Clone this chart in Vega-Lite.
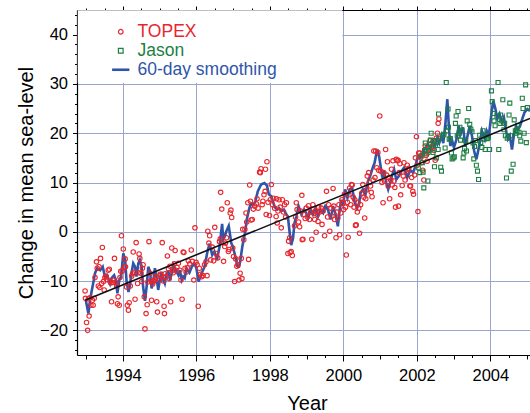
{
  "$schema": "https://vega.github.io/schema/vega-lite/v6.json",
  "width": 453,
  "height": 345,
  "autosize": {"type": "none"},
  "padding": {"left": 77, "top": 10, "right": 0, "bottom": 58},
  "background": "white",
  "config": {
    "view": {"stroke": null},
    "font": "Liberation Sans",
    "axis": {"labelFont": "Liberation Sans", "titleFont": "Liberation Sans", "labelColor": "black", "titleColor": "black", "titleFontWeight": "normal", "domainColor": "black", "tickColor": "black", "domainWidth": 1.2, "tickWidth": 1}
  },
  "datasets": {
    "topex": [
      {"year":1992.97,"level":-12.0},{"year":1992.98,"level":-13.5},{"year":1993.01,"level":-18.4},{"year":1993.04,"level":-20.0},{"year":1993.06,"level":-13.6},{"year":1993.08,"level":-17.1},{"year":1993.10,"level":-13.4},{"year":1993.13,"level":-14.9},{"year":1993.17,"level":-13.9},{"year":1993.19,"level":-14.9},{"year":1993.22,"level":-13.5},{"year":1993.24,"level":-9.3},{"year":1993.28,"level":-6.1},{"year":1993.30,"level":-7.4},{"year":1993.33,"level":-11.0},{"year":1993.35,"level":-7.1},{"year":1993.37,"level":-11.3},{"year":1993.39,"level":-5.4},{"year":1993.42,"level":-10.5},{"year":1993.44,"level":-3.2},{"year":1993.47,"level":-10.1},{"year":1993.49,"level":-11.8},{"year":1993.51,"level":-9.3},{"year":1993.54,"level":-9.0},{"year":1993.56,"level":-9.7},{"year":1993.60,"level":-7.8},{"year":1993.63,"level":-7.6},{"year":1993.65,"level":-10.1},{"year":1993.67,"level":-10.4},{"year":1993.69,"level":-14.2},{"year":1993.72,"level":-10.3},{"year":1993.75,"level":-9.8},{"year":1993.77,"level":-5.4},{"year":1993.81,"level":-10.3},{"year":1993.83,"level":-11.0},{"year":1993.85,"level":-14.6},{"year":1993.87,"level":-13.2},{"year":1993.90,"level":-14.9},{"year":1993.92,"level":-9.3},{"year":1993.94,"level":-8.0},{"year":1993.96,"level":-0.8},{"year":1993.98,"level":-8.0},
      {"year":1994.01,"level":-3.5},{"year":1994.04,"level":-7.2},{"year":1994.06,"level":-5.5},{"year":1994.07,"level":-7.1},{"year":1994.10,"level":-11.2},{"year":1994.12,"level":-14.9},{"year":1994.15,"level":-15.9},{"year":1994.17,"level":-14.4},{"year":1994.20,"level":-11.0},{"year":1994.24,"level":-9.0},{"year":1994.26,"level":-8.5},{"year":1994.28,"level":-4.1},{"year":1994.31,"level":-8.2},{"year":1994.33,"level":-13.7},{"year":1994.36,"level":-2.2},{"year":1994.40,"level":-10.5},{"year":1994.42,"level":-8.3},{"year":1994.44,"level":-4.5},{"year":1994.46,"level":-5.4},{"year":1994.49,"level":-8.4},{"year":1994.51,"level":-10.1},{"year":1994.53,"level":-7.4},{"year":1994.55,"level":-6.7},{"year":1994.58,"level":-13.2},{"year":1994.60,"level":-19.7},{"year":1994.63,"level":-16.6},{"year":1994.66,"level":-14.8},{"year":1994.68,"level":-10.2},{"year":1994.71,"level":-2.0},{"year":1994.74,"level":-8.4},{"year":1994.76,"level":-9.9},{"year":1994.78,"level":-13.9},{"year":1994.81,"level":-10.6},{"year":1994.83,"level":-10.1},{"year":1994.87,"level":-9.7},{"year":1994.90,"level":-9.2},{"year":1994.92,"level":-14.2},{"year":1994.94,"level":-16.3},{"year":1994.99,"level":-9.8},
      {"year":1995.01,"level":-8.6},{"year":1995.03,"level":-8.8},{"year":1995.07,"level":-2.2},{"year":1995.10,"level":-10.0},{"year":1995.12,"level":-15.1},{"year":1995.13,"level":-16.6},{"year":1995.15,"level":-8.5},{"year":1995.17,"level":-9.1},{"year":1995.21,"level":-4.9},{"year":1995.24,"level":-7.5},{"year":1995.26,"level":-9.5},{"year":1995.28,"level":-7.0},{"year":1995.30,"level":-14.2},{"year":1995.33,"level":-3.3},{"year":1995.35,"level":-7.9},{"year":1995.37,"level":-8.3},{"year":1995.40,"level":-6.5},{"year":1995.42,"level":-3.8},{"year":1995.44,"level":-7.8},{"year":1995.47,"level":-7.2},{"year":1995.51,"level":-6.4},{"year":1995.55,"level":-7.8},{"year":1995.58,"level":-9.8},{"year":1995.61,"level":-13.7},{"year":1995.64,"level":-4.1},{"year":1995.66,"level":-4.2},{"year":1995.69,"level":-7.4},{"year":1995.72,"level":-8.2},{"year":1995.75,"level":-7.3},{"year":1995.78,"level":-5.9},{"year":1995.82,"level":-6.5},{"year":1995.86,"level":-3.7},{"year":1995.89,"level":-6.0},{"year":1995.93,"level":-9.8},{"year":1995.96,"level":0.8},{"year":1995.99,"level":-6.2},
      {"year":1996.02,"level":-6.7},{"year":1996.05,"level":-15.1},{"year":1996.08,"level":-7.4},{"year":1996.11,"level":-8.6},{"year":1996.14,"level":-9.1},{"year":1996.18,"level":-8.9},{"year":1996.22,"level":-6.7},{"year":1996.26,"level":-6.1},{"year":1996.29,"level":-8.9},{"year":1996.31,"level":0.1},{"year":1996.34,"level":-2.3},{"year":1996.36,"level":-0.8},{"year":1996.39,"level":-5.7},{"year":1996.43,"level":-3.1},{"year":1996.47,"level":-5.9},{"year":1996.50,"level":0.9},{"year":1996.54,"level":-4.4},{"year":1996.58,"level":-5.3},{"year":1996.63,"level":-2.0},{"year":1996.65,"level":-1.4},{"year":1996.66,"level":8.0},{"year":1996.69,"level":4.6},{"year":1996.74,"level":-6.0},{"year":1996.77,"level":-3.0},{"year":1996.79,"level":-2.3},{"year":1996.82,"level":-1.2},{"year":1996.84,"level":5.9},{"year":1996.87,"level":-4.0},{"year":1996.89,"level":-3.6},{"year":1996.92,"level":3.8},{"year":1996.94,"level":4.4},{"year":1996.96,"level":2.9},{"year":1996.99,"level":-3.3},
      {"year":1997.01,"level":-5.0},{"year":1997.04,"level":-10.1},{"year":1997.07,"level":-5.5},{"year":1997.10,"level":-7.0},{"year":1997.13,"level":-6.7},{"year":1997.16,"level":-9.8},{"year":1997.19,"level":-8.4},{"year":1997.22,"level":-5.4},{"year":1997.24,"level":-9.5},{"year":1997.26,"level":0.5},{"year":1997.29,"level":-1.6},{"year":1997.32,"level":0.5},{"year":1997.35,"level":3.8},{"year":1997.37,"level":2.0},{"year":1997.40,"level":5.9},{"year":1997.42,"level":-5.6},{"year":1997.45,"level":9.5},{"year":1997.47,"level":6.2},{"year":1997.49,"level":2.4},{"year":1997.52,"level":2.5},{"year":1997.55,"level":4.6},{"year":1997.59,"level":5.2},{"year":1997.63,"level":5.7},{"year":1997.65,"level":6.7},{"year":1997.68,"level":4.8},{"year":1997.72,"level":12.1},{"year":1997.74,"level":12.0},{"year":1997.76,"level":12.8},{"year":1997.79,"level":5.5},{"year":1997.81,"level":6.2},{"year":1997.84,"level":7.5},{"year":1997.87,"level":8.2},{"year":1997.88,"level":12.7},{"year":1997.90,"level":3.5},{"year":1997.92,"level":14.2},{"year":1997.95,"level":6.0},{"year":1997.99,"level":3.3},
      {"year":1998.01,"level":6.5},{"year":1998.04,"level":9.6},{"year":1998.07,"level":5.5},{"year":1998.10,"level":6.8},{"year":1998.13,"level":4.8},{"year":1998.17,"level":3.1},{"year":1998.18,"level":6.7},{"year":1998.20,"level":1.8},{"year":1998.22,"level":4.2},{"year":1998.25,"level":6.5},{"year":1998.28,"level":5.0},{"year":1998.31,"level":0.8},{"year":1998.34,"level":6.5},{"year":1998.37,"level":4.0},{"year":1998.40,"level":5.5},{"year":1998.43,"level":3.0},{"year":1998.45,"level":5.9},{"year":1998.49,"level":-4.4},{"year":1998.51,"level":-1.9},{"year":1998.54,"level":-1.2},{"year":1998.55,"level":-4.2},{"year":1998.58,"level":-4.0},{"year":1998.61,"level":-4.8},{"year":1998.67,"level":1.2},{"year":1998.70,"level":3.0},{"year":1998.72,"level":5.9},{"year":1998.74,"level":4.5},{"year":1998.78,"level":2.0},{"year":1998.81,"level":1.0},{"year":1998.84,"level":4.2},{"year":1998.87,"level":7.4},{"year":1998.88,"level":-1.6},{"year":1998.90,"level":-1.5},{"year":1998.93,"level":3.5},{"year":1998.96,"level":2.7},{"year":1998.99,"level":4.8},
      {"year":1999.02,"level":3.0},{"year":1999.05,"level":5.3},{"year":1999.08,"level":2.5},{"year":1999.11,"level":4.0},{"year":1999.14,"level":-1.5},{"year":1999.17,"level":5.5},{"year":1999.20,"level":3.7},{"year":1999.22,"level":2.5},{"year":1999.24,"level":4.2},{"year":1999.26,"level":-0.1},{"year":1999.29,"level":3.5},{"year":1999.31,"level":2.1},{"year":1999.33,"level":5.0},{"year":1999.36,"level":4.0},{"year":1999.40,"level":4.8},{"year":1999.42,"level":1.5},{"year":1999.45,"level":4.2},{"year":1999.49,"level":-0.8},{"year":1999.54,"level":8.2},{"year":1999.57,"level":3.0},{"year":1999.60,"level":5.5},{"year":1999.63,"level":0.1},{"year":1999.66,"level":4.8},{"year":1999.69,"level":3.2},{"year":1999.72,"level":8.8},{"year":1999.74,"level":5.2},{"year":1999.76,"level":2.5},{"year":1999.80,"level":-1.2},{"year":1999.83,"level":4.0},{"year":1999.85,"level":2.8},{"year":1999.88,"level":5.5},{"year":1999.90,"level":-0.6},{"year":1999.93,"level":3.8},{"year":1999.96,"level":6.5},{"year":1999.99,"level":5.9},
      {"year":2000.01,"level":4.5},{"year":2000.03,"level":7.6},{"year":2000.06,"level":5.0},{"year":2000.08,"level":-4.7},{"year":2000.11,"level":6.0},{"year":2000.13,"level":-1.1},{"year":2000.15,"level":7.5},{"year":2000.17,"level":8.9},{"year":2000.20,"level":5.5},{"year":2000.22,"level":9.6},{"year":2000.24,"level":9.5},{"year":2000.27,"level":7.0},{"year":2000.29,"level":5.0},{"year":2000.31,"level":6.5},{"year":2000.33,"level":1.3},{"year":2000.35,"level":1.4},{"year":2000.38,"level":4.0},{"year":2000.40,"level":6.0},{"year":2000.42,"level":4.8},{"year":2000.44,"level":-0.3},{"year":2000.47,"level":5.5},{"year":2000.50,"level":7.8},{"year":2000.53,"level":9.6},{"year":2000.56,"level":7.0},{"year":2000.58,"level":2.8},{"year":2000.61,"level":6.7},{"year":2000.63,"level":8.5},{"year":2000.65,"level":11.3},{"year":2000.69,"level":12.0},{"year":2000.71,"level":10.0},{"year":2000.74,"level":9.3},{"year":2000.76,"level":8.0},{"year":2000.78,"level":7.1},{"year":2000.81,"level":10.5},{"year":2000.83,"level":16.4},{"year":2000.86,"level":11.0},{"year":2000.88,"level":16.4},{"year":2000.91,"level":13.0},{"year":2000.94,"level":16.1},{"year":2000.96,"level":12.5},{"year":2000.99,"level":23.5},
      {"year":2001.02,"level":12.3},{"year":2001.05,"level":10.0},{"year":2001.08,"level":5.9},{"year":2001.10,"level":12.0},{"year":2001.12,"level":10.3},{"year":2001.15,"level":16.7},{"year":2001.18,"level":11.5},{"year":2001.20,"level":14.2},{"year":2001.22,"level":9.3},{"year":2001.24,"level":11.0},{"year":2001.26,"level":6.7},{"year":2001.29,"level":10.5},{"year":2001.31,"level":12.7},{"year":2001.33,"level":9.5},{"year":2001.35,"level":14.4},{"year":2001.38,"level":10.3},{"year":2001.40,"level":9.0},{"year":2001.42,"level":5.0},{"year":2001.44,"level":14.7},{"year":2001.47,"level":14.4},{"year":2001.49,"level":14.5},{"year":2001.50,"level":5.2},{"year":2001.52,"level":12.0},{"year":2001.54,"level":13.8},{"year":2001.56,"level":7.5},{"year":2001.60,"level":9.4},{"year":2001.63,"level":11.3},{"year":2001.65,"level":14.0},{"year":2001.68,"level":10.5},{"year":2001.71,"level":12.2},{"year":2001.74,"level":13.5},{"year":2001.76,"level":12.7},{"year":2001.78,"level":12.9},{"year":2001.81,"level":9.3},{"year":2001.83,"level":9.3},{"year":2001.86,"level":11.0},{"year":2001.89,"level":8.2},{"year":2001.91,"level":7.6},{"year":2001.94,"level":11.5},{"year":2001.96,"level":15.0},{"year":2001.99,"level":19.3},
      {"year":2002.01,"level":13.5},{"year":2002.03,"level":4.1},{"year":2002.05,"level":16.0},{"year":2002.08,"level":16.0},{"year":2002.10,"level":15.0},{"year":2002.13,"level":14.0},{"year":2002.16,"level":12.5},{"year":2002.19,"level":10.5},{"year":2002.21,"level":16.5},{"year":2002.23,"level":17.4},{"year":2002.25,"level":15.5},{"year":2002.28,"level":14.3},{"year":2002.30,"level":16.0},{"year":2002.33,"level":17.0},{"year":2002.36,"level":18.5},{"year":2002.39,"level":17.0},{"year":2002.41,"level":17.3},{"year":2002.44,"level":18.4},{"year":2002.47,"level":16.5},{"year":2002.50,"level":14.5},{"year":2002.53,"level":19.0},{"year":2002.56,"level":20.0},{"year":2002.58,"level":22.0},{"year":2002.60,"level":22.9}
    ],
    "jason": [
      {"year":2002.04,"level":13.0},{"year":2002.08,"level":12.0},{"year":2002.12,"level":15.4},{"year":2002.15,"level":14.0},{"year":2002.17,"level":12.1},{"year":2002.19,"level":8.9},{"year":2002.21,"level":16.5},{"year":2002.23,"level":18.0},{"year":2002.26,"level":15.8},{"year":2002.29,"level":17.1},{"year":2002.30,"level":10.3},{"year":2002.33,"level":16.5},{"year":2002.35,"level":17.8},{"year":2002.37,"level":18.6},{"year":2002.39,"level":20.0},{"year":2002.42,"level":16.8},{"year":2002.44,"level":16.1},{"year":2002.46,"level":18.5},{"year":2002.48,"level":13.2},{"year":2002.51,"level":17.5},{"year":2002.53,"level":15.0},{"year":2002.56,"level":18.2},{"year":2002.58,"level":16.7},{"year":2002.59,"level":23.9},{"year":2002.62,"level":19.0},{"year":2002.65,"level":13.1},{"year":2002.67,"level":12.3},{"year":2002.71,"level":19.6},{"year":2002.74,"level":19.8},{"year":2002.77,"level":17.0},{"year":2002.80,"level":30.3},{"year":2002.83,"level":20.5},{"year":2002.85,"level":24.9},{"year":2002.86,"level":21.2},{"year":2002.88,"level":18.8},{"year":2002.91,"level":18.9},{"year":2002.94,"level":16.0},{"year":2002.96,"level":14.8},{"year":2002.99,"level":15.0},
      {"year":2003.02,"level":15.2},{"year":2003.05,"level":22.0},{"year":2003.07,"level":23.5},{"year":2003.10,"level":19.5},{"year":2003.12,"level":24.4},{"year":2003.15,"level":20.0},{"year":2003.17,"level":21.2},{"year":2003.19,"level":18.6},{"year":2003.22,"level":20.6},{"year":2003.26,"level":15.0},{"year":2003.28,"level":16.0},{"year":2003.30,"level":16.9},{"year":2003.33,"level":18.5},{"year":2003.35,"level":16.4},{"year":2003.37,"level":22.5},{"year":2003.41,"level":25.0},{"year":2003.44,"level":21.8},{"year":2003.47,"level":20.8},{"year":2003.50,"level":20.3},{"year":2003.53,"level":18.0},{"year":2003.55,"level":14.8},{"year":2003.57,"level":17.3},{"year":2003.60,"level":18.5},{"year":2003.62,"level":13.5},{"year":2003.65,"level":12.3},{"year":2003.68,"level":10.6},{"year":2003.71,"level":19.6},{"year":2003.74,"level":18.1},{"year":2003.77,"level":17.1},{"year":2003.80,"level":20.5},{"year":2003.83,"level":18.8},{"year":2003.86,"level":16.7},{"year":2003.89,"level":19.5},{"year":2003.92,"level":18.9},{"year":2003.95,"level":19.2},{"year":2003.98,"level":16.7},
      {"year":2004.03,"level":28.6},{"year":2004.05,"level":26.4},{"year":2004.08,"level":24.0},{"year":2004.10,"level":22.5},{"year":2004.13,"level":21.5},{"year":2004.18,"level":23.5},{"year":2004.21,"level":30.3},{"year":2004.23,"level":16.7},{"year":2004.26,"level":22.0},{"year":2004.28,"level":23.7},{"year":2004.31,"level":22.5},{"year":2004.34,"level":26.8},{"year":2004.37,"level":20.7},{"year":2004.39,"level":22.0},{"year":2004.41,"level":19.5},{"year":2004.44,"level":10.9},{"year":2004.46,"level":19.0},{"year":2004.51,"level":23.7},{"year":2004.53,"level":26.1},{"year":2004.55,"level":19.5},{"year":2004.57,"level":12.3},{"year":2004.62,"level":13.7},{"year":2004.65,"level":22.7},{"year":2004.68,"level":20.5},{"year":2004.70,"level":20.0},{"year":2004.73,"level":20.5},{"year":2004.75,"level":21.5},{"year":2004.78,"level":20.2},{"year":2004.80,"level":19.5},{"year":2004.83,"level":18.4},{"year":2004.87,"level":27.1},{"year":2004.89,"level":25.0},{"year":2004.92,"level":20.0},{"year":2004.96,"level":29.8},{"year":2004.98,"level":18.1},{"year":2005.01,"level":25.2}
    ],
    "smooth": [
      {"year":1992.99,"level":-13.9},{"year":1993.06,"level":-16.6},{"year":1993.10,"level":-14.2},{"year":1993.15,"level":-12.0},{"year":1993.19,"level":-10.5},{"year":1993.24,"level":-8.4},{"year":1993.30,"level":-7.4},{"year":1993.38,"level":-7.8},{"year":1993.45,"level":-7.1},{"year":1993.51,"level":-9.1},{"year":1993.57,"level":-8.8},{"year":1993.65,"level":-10.5},{"year":1993.69,"level":-9.4},{"year":1993.76,"level":-8.8},{"year":1993.81,"level":-9.8},{"year":1993.85,"level":-12.5},{"year":1993.90,"level":-9.8},{"year":1993.95,"level":-9.1},{"year":1994.01,"level":-4.4},{"year":1994.06,"level":-5.7},{"year":1994.10,"level":-10.1},{"year":1994.15,"level":-12.2},{"year":1994.19,"level":-11.0},{"year":1994.24,"level":-8.1},{"year":1994.28,"level":-6.4},{"year":1994.33,"level":-7.1},{"year":1994.37,"level":-9.1},{"year":1994.42,"level":-6.4},{"year":1994.46,"level":-5.7},{"year":1994.51,"level":-7.1},{"year":1994.55,"level":-11.2},{"year":1994.60,"level":-14.0},{"year":1994.65,"level":-10.8},{"year":1994.69,"level":-7.1},{"year":1994.74,"level":-8.1},{"year":1994.78,"level":-11.5},{"year":1994.83,"level":-9.8},{"year":1994.87,"level":-7.4},{"year":1994.92,"level":-9.5},{"year":1994.96,"level":-11.8},{"year":1995.01,"level":-9.5},{"year":1995.05,"level":-8.1},{"year":1995.10,"level":-9.8},{"year":1995.14,"level":-10.5},{"year":1995.19,"level":-8.4},{"year":1995.24,"level":-8.1},{"year":1995.28,"level":-9.8},{"year":1995.33,"level":-8.4},{"year":1995.37,"level":-6.7},{"year":1995.42,"level":-7.4},{"year":1995.46,"level":-8.1},{"year":1995.51,"level":-8.8},{"year":1995.55,"level":-7.8},{"year":1995.60,"level":-9.8},{"year":1995.64,"level":-9.1},{"year":1995.68,"level":-9.4},{"year":1995.73,"level":-7.5},{"year":1995.81,"level":-8.3},{"year":1995.88,"level":-7.0},{"year":1995.95,"level":-6.5},{"year":1996.00,"level":-7.4},{"year":1996.06,"level":-10.1},{"year":1996.13,"level":-8.6},{"year":1996.22,"level":-7.1},{"year":1996.31,"level":-3.7},{"year":1996.36,"level":-2.4},{"year":1996.43,"level":-4.7},{"year":1996.49,"level":-4.0},{"year":1996.56,"level":-5.7},{"year":1996.63,"level":-3.0},{"year":1996.68,"level":0.4},{"year":1996.70,"level":1.6},{"year":1996.73,"level":-1.5},{"year":1996.77,"level":-1.0},{"year":1996.81,"level":0.0},{"year":1996.88,"level":1.2},{"year":1996.95,"level":-2.3},{"year":1996.99,"level":-3.0},{"year":1997.04,"level":-4.4},{"year":1997.10,"level":-6.4},{"year":1997.13,"level":-7.1},{"year":1997.16,"level":-7.1},{"year":1997.19,"level":-6.1},{"year":1997.25,"level":-3.0},{"year":1997.32,"level":-0.3},{"year":1997.38,"level":2.8},{"year":1997.44,"level":4.8},{"year":1997.49,"level":5.7},{"year":1997.54,"level":5.5},{"year":1997.60,"level":6.0},{"year":1997.67,"level":8.2},{"year":1997.76,"level":9.6},{"year":1997.85,"level":9.9},{"year":1997.92,"level":9.4},{"year":1997.97,"level":7.6},{"year":1998.04,"level":7.2},{"year":1998.13,"level":5.0},{"year":1998.20,"level":4.5},{"year":1998.25,"level":4.8},{"year":1998.31,"level":4.2},{"year":1998.38,"level":4.5},{"year":1998.45,"level":3.5},{"year":1998.49,"level":3.1},{"year":1998.54,"level":-0.3},{"year":1998.58,"level":-2.7},{"year":1998.63,"level":-1.3},{"year":1998.67,"level":1.8},{"year":1998.72,"level":3.1},{"year":1998.78,"level":5.2},{"year":1998.86,"level":3.5},{"year":1998.93,"level":4.5},{"year":1998.99,"level":3.8},{"year":1999.04,"level":2.8},{"year":1999.11,"level":4.5},{"year":1999.17,"level":3.5},{"year":1999.24,"level":4.8},{"year":1999.31,"level":3.1},{"year":1999.38,"level":4.5},{"year":1999.45,"level":3.8},{"year":1999.51,"level":5.2},{"year":1999.58,"level":4.5},{"year":1999.65,"level":2.5},{"year":1999.72,"level":5.2},{"year":1999.78,"level":3.8},{"year":1999.85,"level":1.1},{"year":1999.90,"level":4.5},{"year":1999.94,"level":6.5},{"year":1999.99,"level":5.2},{"year":2000.05,"level":8.6},{"year":2000.11,"level":6.9},{"year":2000.17,"level":8.6},{"year":2000.24,"level":8.9},{"year":2000.31,"level":5.9},{"year":2000.37,"level":4.8},{"year":2000.42,"level":5.5},{"year":2000.47,"level":7.9},{"year":2000.53,"level":8.6},{"year":2000.60,"level":7.5},{"year":2000.67,"level":10.3},{"year":2000.73,"level":11.3},{"year":2000.80,"level":13.0},{"year":2000.85,"level":14.0},{"year":2000.92,"level":16.7},{"year":2000.97,"level":15.4},{"year":2001.02,"level":13.0},{"year":2001.06,"level":11.0},{"year":2001.11,"level":12.3},{"year":2001.17,"level":9.9},{"year":2001.22,"level":8.6},{"year":2001.27,"level":9.9},{"year":2001.32,"level":11.3},{"year":2001.38,"level":12.7},{"year":2001.44,"level":10.6},{"year":2001.51,"level":11.3},{"year":2001.58,"level":12.3},{"year":2001.65,"level":13.0},{"year":2001.70,"level":12.0},{"year":2001.74,"level":11.0},{"year":2001.82,"level":12.5},{"year":2001.90,"level":12.0},{"year":2001.96,"level":13.3},{"year":2002.03,"level":15.4},{"year":2002.10,"level":15.0},{"year":2002.17,"level":16.1},{"year":2002.23,"level":17.0},{"year":2002.30,"level":17.8},{"year":2002.37,"level":16.8},{"year":2002.44,"level":18.4},{"year":2002.50,"level":17.5},{"year":2002.56,"level":19.1},{"year":2002.61,"level":18.0},{"year":2002.67,"level":19.5},{"year":2002.72,"level":18.0},{"year":2002.78,"level":22.2},{"year":2002.83,"level":26.9},{"year":2002.87,"level":21.5},{"year":2002.91,"level":17.4},{"year":2002.96,"level":18.5},{"year":2003.01,"level":17.1},{"year":2003.08,"level":18.8},{"year":2003.14,"level":21.5},{"year":2003.19,"level":19.8},{"year":2003.26,"level":21.2},{"year":2003.32,"level":17.4},{"year":2003.38,"level":19.5},{"year":2003.44,"level":21.5},{"year":2003.50,"level":19.5},{"year":2003.56,"level":16.4},{"year":2003.62,"level":14.7},{"year":2003.66,"level":16.1},{"year":2003.71,"level":18.0},{"year":2003.77,"level":20.5},{"year":2003.85,"level":18.8},{"year":2003.90,"level":20.5},{"year":2003.96,"level":19.5},{"year":2004.03,"level":23.9},{"year":2004.08,"level":26.6},{"year":2004.14,"level":24.9},{"year":2004.19,"level":22.9},{"year":2004.25,"level":23.9},{"year":2004.32,"level":22.2},{"year":2004.37,"level":23.2},{"year":2004.44,"level":20.1},{"year":2004.48,"level":18.8},{"year":2004.53,"level":19.5},{"year":2004.59,"level":16.7},{"year":2004.64,"level":19.5},{"year":2004.70,"level":21.5},{"year":2004.75,"level":20.8},{"year":2004.81,"level":21.5},{"year":2004.87,"level":22.9},{"year":2004.93,"level":24.2},{"year":2005.01,"level":24.9},{"year":2005.08,"level":24.5}
    ],
    "trend": [
      {"year":1992.97,"level":-13.9},{"year":2005.08,"level":23.0}
    ]
  },
  "resolve": {"axis": {"x": "independent", "y": "independent"}},
  "layer": [
    {
      "data": {"values": [{}]},
      "mark": {"type": "rect", "color": "white"},
      "encoding": {
        "x": {"datum": 1992.77, "type": "quantitative", "scale": {"domain": [1992.75, 2005.08], "nice": false, "zero": false},
          "axis": {"orient": "top", "values": [1993,1993.5,1994,1994.5,1995,1995.5,1996,1996.5,1997,1997.5,1998,1998.5,1999,1999.5,2000,2000.5,2001,2001.5,2002,2002.5,2003,2003.5,2004,2004.5,2005],
            "labels": false, "grid": false, "title": null,
            "tickSize": {"condition": {"test": "datum.value % 2 === 0", "value": 4}, "value": 2}}},
        "x2": {"datum": 1999.97},
        "y": {"datum": 30.25, "type": "quantitative", "scale": {"domain": [-25, 45], "nice": false, "zero": false}, "axis": null},
        "y2": {"datum": 44.95}
      }
    },
    {
      "data": {"name": "smooth"},
      "mark": {"type": "line", "strokeWidth": 2.6, "interpolate": "linear"},
      "encoding": {
        "x": {"field": "year", "type": "quantitative",
          "axis": {"orient": "bottom", "values": [1993,1993.5,1994,1994.5,1995,1995.5,1996,1996.5,1997,1997.5,1998,1998.5,1999,1999.5,2000,2000.5,2001,2001.5,2002,2002.5,2003,2003.5,2004,2004.5,2005],
            "labelExpr": "datum.value % 2 === 0 ? format(datum.value, 'd') : ''",
            "labelFontSize": 16.5, "labelOverlap": false, "labelFlush": false, "labelPadding": 6,
            "grid": true, "gridColor": "#99a4cf", "gridWidth": 1,
            "gridOpacity": {"condition": {"test": "datum.value % 2 === 0", "value": 1}, "value": 0},
            "tickSize": {"condition": [{"test": "datum.value % 2 === 0", "value": 6}, {"test": "datum.value % 1 === 0", "value": 4}], "value": 2.5},
            "title": "Year", "titleFontSize": 20, "titlePadding": 10, "titleX": 230}},
        "y": {"field": "level", "type": "quantitative",
          "axis": {"orient": "left", "values": [-24,-22,-20,-18,-16,-14,-12,-10,-8,-6,-4,-2,0,2,4,6,8,10,12,14,16,18,20,22,24,26,28,30,32,34,36,38,40,42,44],
            "labelExpr": "datum.value % 10 === 0 ? format(datum.value, 'd') : ''",
            "labelFontSize": 16.5, "labelOverlap": false, "labelFlush": false, "labelPadding": 5,
            "grid": true, "gridColor": "#99a4cf", "gridWidth": 1,
            "gridOpacity": {"condition": {"test": "datum.value % 10 === 0", "value": 1}, "value": 0},
            "tickSize": {"condition": {"test": "datum.value % 10 === 0", "value": 4.5}, "value": 2.5},
            "title": "Change in mean sea-level", "titleFontSize": 20, "titlePadding": 3}},
        "color": {"datum": "60-day smoothing", "type": "nominal",
          "scale": {"domain": ["TOPEX", "Jason", "60-day smoothing"], "range": ["#e8262d", "#1d7f43", "#2e55aa"]},
          "legend": {"orient": "none", "legendX": 25, "legendY": 13, "title": null, "padding": 0, "rowPadding": 0,
            "labelFontSize": 17.5, "labelFont": "Liberation Sans", "labelOffset": 8, "symbolOffset": 10,
            "encode": {
              "labels": {"update": {"fill": {"scale": "color", "field": "value"}}},
              "symbols": {"update": {
                "fill": {"value": "transparent"},
                "stroke": {"scale": "color", "field": "value"},
                "shape": {"scale": "shape", "field": "value"},
                "size": {"signal": "datum.value === '60-day smoothing' ? 300 : 22"},
                "strokeWidth": {"signal": "datum.value === '60-day smoothing' ? 2.6 : 1.2"}
              }}
            }}}
      }
    },
    {
      "data": {"name": "topex"},
      "mark": {"type": "point", "filled": false, "strokeWidth": 1.1, "size": 20, "opacity": 1},
      "encoding": {
        "x": {"field": "year", "type": "quantitative", "axis": null},
        "y": {"field": "level", "type": "quantitative", "axis": null},
        "color": {"datum": "TOPEX", "type": "nominal"},
        "shape": {"datum": "TOPEX", "type": "nominal", "scale": {"domain": ["TOPEX", "Jason", "60-day smoothing"], "range": ["circle", "square", "stroke"]}}
      }
    },
    {
      "data": {"name": "jason"},
      "mark": {"type": "point", "filled": false, "strokeWidth": 1.1, "size": 16, "opacity": 1},
      "encoding": {
        "x": {"field": "year", "type": "quantitative", "axis": null},
        "y": {"field": "level", "type": "quantitative", "axis": null},
        "color": {"datum": "Jason", "type": "nominal"},
        "shape": {"datum": "Jason", "type": "nominal"}
      }
    },
    {
      "data": {"name": "trend"},
      "mark": {"type": "line", "color": "#111111", "strokeWidth": 1.6},
      "encoding": {
        "x": {"field": "year", "type": "quantitative", "axis": null},
        "y": {"field": "level", "type": "quantitative", "axis": null}
      }
    }
  ]
}
